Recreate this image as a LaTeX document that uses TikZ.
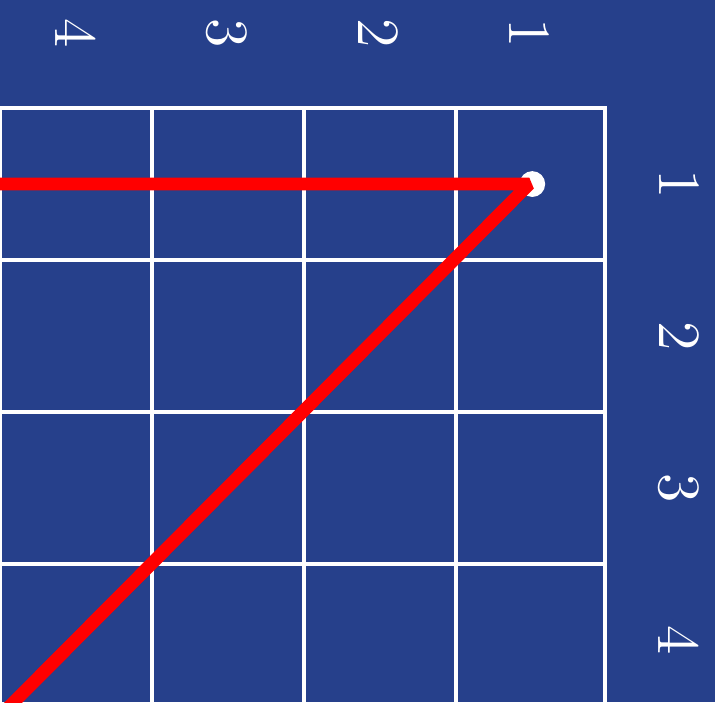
\documentclass[tikz,border=0pt]{standalone}
\usepackage{tikz}

\definecolor{bgblue}{RGB}{38,64,139}

\begin{document}
\begin{tikzpicture}[x=0.995cm]
	% styles for the grid, the path and the labels
	\tikzset{
		gridline/.style={draw=white, line width=0.8pt},
		redpath/.style={draw=red, line width=2.4pt, line join=bevel},
		axislabel/.style={text=white, rotate=-90, font=\fontsize{11.2}{13}\selectfont}
	}
	
	% background (fixes the size of the picture)
	\fill[bgblue] (0, -3.908) rectangle (4.728, 0.711);
	\useasboundingbox (0, -3.908) rectangle (4.728, 0.711);
	\clip (0, -3.908) rectangle (4.728, 0.711);
	
	% the grid, cut off at the bottom
	\draw[gridline] (0, -4.2) grid (4, 0);
	\draw[gridline] (0, 0) -- (4, 0) -- (4, -4.2);
	
	% column labels on top
	\node[axislabel] (c4) at (0.5, 0.49) {4};
	\node[axislabel] (c3) at (1.5, 0.49) {3};
	\node[axislabel] (c2) at (2.5, 0.49) {2};
	\node[axislabel] (c1) at (3.5, 0.49) {1};
	
	% row labels on the right
	\node[axislabel] (r1) at (4.49, -0.5) {1};
	\node[axislabel] (r2) at (4.49, -1.5) {2};
	\node[axislabel] (r3) at (4.49, -2.5) {3};
	\node[axislabel] (r4) at (4.49, -3.5) {4};
	
	% start point
	\coordinate (start) at (3.5, -0.5);
	\fill[white] (3.52, -0.5) circle (0.085);
	
	% red path: along the row, then down the diagonal
	\coordinate (rowend) at (-0.1, -0.5);
	\coordinate (diagend) at (-0.2, -4.2);
	\draw[redpath] (rowend) -- (start) -- (diagend);

\end{tikzpicture}
\end{document}
